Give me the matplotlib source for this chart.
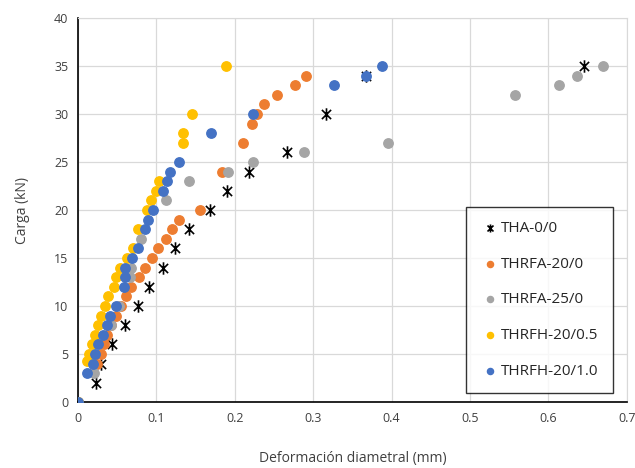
import numpy as np
import matplotlib
matplotlib.use("Agg")
import matplotlib.pyplot as plt
from matplotlib.path import Path

plt.rcParams['font.family'] = ['Open Sans', 'DejaVu Sans']

# Carga (kN) vs deformacion diametral (mm)
tha_x = [0.023, 0.030, 0.043, 0.060, 0.077, 0.091, 0.109, 0.124, 0.142, 0.168,
         0.190, 0.218, 0.267, 0.317, 0.367, 0.645]
tha_y = [2, 4, 6, 8, 10, 12, 14, 16, 18, 20, 22, 24, 26, 30, 34, 35]

fa20_x = [0.0, 0.024, 0.029, 0.033, 0.037, 0.042, 0.048, 0.055, 0.061, 0.068,
          0.078, 0.085, 0.094, 0.102, 0.112, 0.120, 0.129, 0.156, 0.184, 0.210,
          0.222, 0.228, 0.237, 0.254, 0.277, 0.291]
fa20_y = [0, 4, 5, 6, 7, 8, 9, 10, 11, 12,
          13, 14, 15, 16, 17, 18, 19, 20, 24, 27,
          29, 30, 31, 32, 33, 34]

fa25_x = [0.0, 0.020, 0.042, 0.052, 0.066, 0.068, 0.080, 0.112, 0.142, 0.191,
          0.223, 0.288, 0.396, 0.557, 0.613, 0.637, 0.670]
fa25_y = [0, 3, 8, 10, 13, 14, 17, 21, 23, 24,
          25, 26, 27, 32, 33, 34, 35]

fh05_x = [0.0, 0.011, 0.014, 0.018, 0.022, 0.026, 0.030, 0.034, 0.038, 0.046,
          0.049, 0.054, 0.062, 0.070, 0.076, 0.088, 0.093, 0.099, 0.103, 0.134,
          0.134, 0.145, 0.189]
fh05_y = [0, 4.3, 5, 6, 7, 8, 9, 10, 11, 12,
          13, 14, 15, 16, 18, 20, 21, 22, 23, 27,
          28, 30, 35]

fh10_x = [0.0, 0.011, 0.019, 0.022, 0.025, 0.032, 0.037, 0.041, 0.048, 0.059,
          0.060, 0.060, 0.069, 0.076, 0.085, 0.089, 0.096, 0.109, 0.113, 0.118,
          0.129, 0.170, 0.223, 0.326, 0.367, 0.388]
fh10_y = [0, 3, 4, 5, 6, 7, 8, 9, 10, 12,
          13, 14, 15, 16, 18, 19, 20, 22, 23, 24,
          25, 28, 30, 33, 34, 35]

labels = ['THA-0/0', 'THRFA-20/0', 'THRFA-25/0', 'THRFH-20/0.5', 'THRFH-20/1.0']

# X with a vertical bar, like the Excel marker
star = Path([(-1, -1), (1, 1), (-1, 1), (1, -1), (0, -1.35), (0, 1.35)],
            [Path.MOVETO, Path.LINETO, Path.MOVETO, Path.LINETO,
             Path.MOVETO, Path.LINETO])

fig = plt.figure(figsize=(6.35, 4.68), dpi=100)
ax = fig.add_axes([0.1228, 0.141, 0.8642, 0.8205])

ax.scatter(tha_x, tha_y, marker=star, s=80, c='black', linewidths=1.2,
           label=labels[0], zorder=3)
ax.scatter(fa20_x, fa20_y, s=46, c='#ED7D31', label=labels[1], zorder=3)
ax.scatter(fa25_x, fa25_y, s=46, c='#A5A5A5', label=labels[2], zorder=3)
ax.scatter(fh05_x, fh05_y, s=46, c='#FFC000', label=labels[3], zorder=3)
ax.scatter(fh10_x, fh10_y, s=46, c='#4472C4', label=labels[4], zorder=3)

ax.set_xlim(0, 0.7)
ax.set_ylim(0, 40)
ax.set_xticks(np.arange(0, 0.71, 0.1))
ax.set_xticklabels(['0', '0.1', '0.2', '0.3', '0.4', '0.5', '0.6', '0.7'])
ax.set_yticks(range(0, 41, 5))
ax.grid(True, color='#D9D9D9', linewidth=0.9, zorder=0)
ax.set_axisbelow(True)

for s in ['top', 'right']:
    ax.spines[s].set_color('#D9D9D9')
for s in ['left', 'bottom']:
    ax.spines[s].set_color('black')
    ax.spines[s].set_linewidth(1.2)

ax.tick_params(length=0, labelsize=9, colors='#404040', pad=7)
ax.set_xlabel('Deformación diametral (mm)', fontsize=10, color='#404040', labelpad=19)
ax.set_ylabel('Carga (kN)', fontsize=10, color='#404040', labelpad=17)

leg = ax.legend(loc='lower right', bbox_to_anchor=(0.9745, 0.023), fontsize=11,
                frameon=True, fancybox=False, edgecolor='black',
                labelspacing=1.35, handletextpad=0.1, borderpad=0.95,
                borderaxespad=0, markerscale=0.65, handlelength=1.2)
leg.get_frame().set_linewidth(1.0)
for t in leg.get_texts():
    t.set_color('#262626')

fig.savefig('out.png', dpi=100)
